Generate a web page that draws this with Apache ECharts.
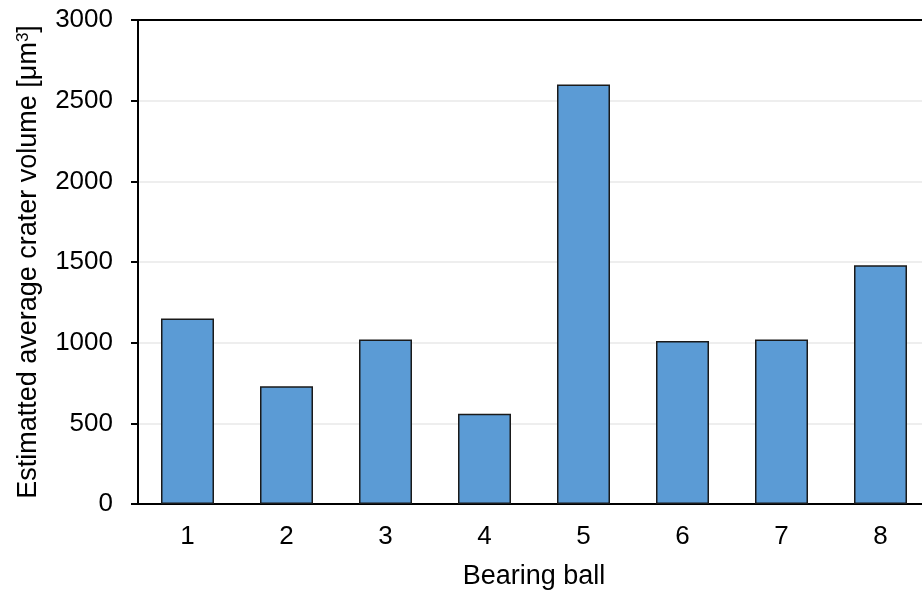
<!DOCTYPE html>
<html><head><meta charset="utf-8">
<script src="https://cdn.jsdelivr.net/npm/echarts@6/dist/echarts.min.js"></script>
<style>html,body{margin:0;padding:0;background:#fff}#c{width:922px;height:594px}</style>
</head><body><div id="c"></div>
<script>
const categories = ['1','2','3','4','5','6','7','8'];
const craterVolume = [1150, 730, 1020, 560, 2600, 1010, 1020, 1480];
const yTicks = [0, 500, 1000, 1500, 2000, 2500, 3000];

const chart = echarts.init(document.getElementById('c'));
const font = 'Liberation Sans, Arial, sans-serif';
chart.setOption({
  animation: false,
  backgroundColor: '#fff',
  grid: { left: 138, top: 20, width: 792, height: 484, show: false, containLabel: false, outerBoundsMode: 'none' },
  xAxis: [{
    type: 'category', data: categories,
    name: 'Bearing ball', nameLocation: 'middle', nameGap: 59,
    nameTextStyle: { fontFamily: font, fontSize: 27, color: '#000' },
    axisLine: { lineStyle: { color: '#000', width: 2 } },
    axisTick: { show: false },
    axisLabel: { fontFamily: font, fontSize: 26, color: '#000', margin: 20 }
  }, {
    type: 'category', data: categories, position: 'top',
    axisLine: { show: true, lineStyle: { color: '#000', width: 2 } },
    axisTick: { show: false }, axisLabel: { show: false }, splitLine: { show: false }
  }],
  yAxis: {
    type: 'value', min: yTicks[0], max: yTicks[yTicks.length - 1], interval: 500,
    name: '{a|Estimatted average crater volume [μm}{s|3}{a|]}', nameLocation: 'middle', nameGap: 96,
    nameTextStyle: { rich: { a: { fontFamily: font, fontSize: 27, color: '#000' }, s: { fontFamily: font, fontSize: 17, color: '#000', verticalAlign: 'top', padding: [0,0,10,0] } } },
    axisLine: { show: true, lineStyle: { color: '#000', width: 2 } },
    axisTick: { show: true, inside: false, length: 7, lineStyle: { color: '#000', width: 2 } },
    axisLabel: { fontFamily: font, fontSize: 26, color: '#000', margin: 25, formatter: v => String(v) },
    splitLine: { show: true, lineStyle: { color: '#eeeeee', width: 2 } }
  },
  series: [{
    type: 'bar', data: craterVolume, barWidth: 53, xAxisIndex: 0,
    itemStyle: { color: '#5b9bd5', borderColor: '#1a1a1a', borderWidth: 1.5 }
  }]
});
</script></body></html>
